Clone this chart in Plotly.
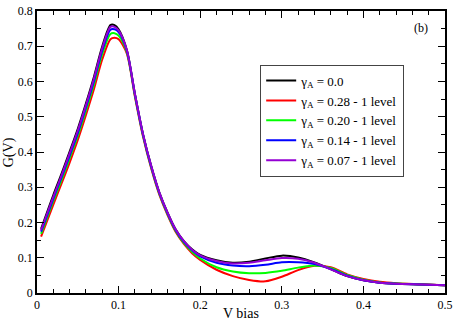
import plotly.graph_objects as go

# V bias grid
v_bias = [0.005, 0.02, 0.03, 0.04, 0.05, 0.06, 0.07, 0.08, 0.09, 0.095, 0.1, 0.11, 0.12,
          0.13, 0.14, 0.15, 0.16, 0.17, 0.18, 0.19, 0.2, 0.22, 0.24, 0.26, 0.28, 0.3,
          0.32, 0.34, 0.36, 0.38, 0.40, 0.42, 0.44, 0.47, 0.5]

g_00 = [0.182, 0.278, 0.338, 0.401, 0.466, 0.538, 0.615, 0.70, 0.760, 0.760, 0.748, 0.69,
        0.565, 0.45, 0.36, 0.285, 0.228, 0.18, 0.147, 0.124, 0.108, 0.093, 0.086, 0.089,
        0.098, 0.106, 0.101, 0.087, 0.068, 0.048, 0.036, 0.029, 0.026, 0.024, 0.022]
g_028 = [0.16, 0.251, 0.31, 0.37, 0.434, 0.505, 0.58, 0.663, 0.720, 0.724, 0.72, 0.68,
         0.557, 0.443, 0.353, 0.278, 0.221, 0.173, 0.139, 0.113, 0.094, 0.066, 0.048, 0.037,
         0.033, 0.046, 0.065, 0.077, 0.073, 0.053, 0.04, 0.032, 0.028, 0.025, 0.022]
g_020 = [0.168, 0.261, 0.32, 0.382, 0.446, 0.518, 0.594, 0.678, 0.735, 0.737, 0.73, 0.684,
         0.56, 0.446, 0.356, 0.281, 0.224, 0.176, 0.142, 0.117, 0.098, 0.073, 0.061, 0.056,
         0.057, 0.063, 0.072, 0.078, 0.071, 0.051, 0.038, 0.03, 0.027, 0.024, 0.022]
g_014 = [0.174, 0.268, 0.328, 0.39, 0.454, 0.527, 0.603, 0.688, 0.747, 0.748, 0.74, 0.688,
         0.563, 0.448, 0.358, 0.283, 0.226, 0.178, 0.145, 0.121, 0.104, 0.086, 0.078, 0.076,
         0.08, 0.087, 0.087, 0.082, 0.068, 0.049, 0.036, 0.029, 0.026, 0.024, 0.022]
g_007 = [0.178, 0.273, 0.333, 0.396, 0.461, 0.533, 0.61, 0.695, 0.755, 0.755, 0.745, 0.69,
         0.565, 0.45, 0.36, 0.285, 0.228, 0.18, 0.147, 0.123, 0.107, 0.091, 0.084, 0.086,
         0.093, 0.099, 0.097, 0.086, 0.067, 0.048, 0.036, 0.029, 0.026, 0.024, 0.022]

names = ["γ<sub>A</sub> = 0.0", "γ<sub>A</sub> = 0.28 - 1 level", "γ<sub>A</sub> = 0.20 - 1 level",
         "γ<sub>A</sub> = 0.14 - 1 level", "γ<sub>A</sub> = 0.07 - 1 level"]
series = [g_00, g_028, g_020, g_014, g_007]
colors = ["#000000", "#ff0000", "#00ff00", "#0000ff", "#9400d3"]

serif = "Liberation Serif"

fig = go.Figure()
for nm, ys, col in zip(names, series, colors):
    fig.add_trace(go.Scatter(x=v_bias, y=ys, mode="lines", name=nm,
                             line=dict(color=col, width=2, shape="spline", smoothing=0.8)))

axis_common = dict(showgrid=False, zeroline=False, showline=True, linecolor="black", linewidth=1.5,
                   mirror="allticks", ticks="inside", ticklen=7, tickcolor="black",
                   ticklabeloverflow="allow",
                   tickfont=dict(family=serif, size=12, color="black"))
fig.update_xaxes(range=[0, 0.5], dtick=0.1, tick0=0,
                 minor=dict(dtick=0.02, ticks="inside", ticklen=4, tickcolor="black"),
                 **axis_common)
fig.update_yaxes(range=[0, 0.8], dtick=0.1, tick0=0,
                 minor=dict(dtick=0.05, ticks="inside", ticklen=4, tickcolor="black"),
                 **axis_common)

fig.add_annotation(text="G(V)", xref="paper", yref="paper", x=-0.068, y=0.5, textangle=-90,
                   xanchor="center", yanchor="middle",
                   showarrow=False, font=dict(family=serif, size=14, color="black"))
fig.add_annotation(text="V bias", xref="paper", yref="paper", x=0.5, y=-0.073,
                   xanchor="center", yanchor="middle",
                   showarrow=False, font=dict(family=serif, size=14, color="black"))
fig.add_annotation(text="(b)", xref="paper", yref="paper", x=0.942, y=0.94,
                   xanchor="center", yanchor="middle",
                   showarrow=False, font=dict(family=serif, size=12, color="black"))

fig.update_layout(width=457, height=321, margin=dict(l=37, r=7, t=4, b=28),
                  plot_bgcolor="white", paper_bgcolor="white",
                  font=dict(family=serif),
                  legend=dict(x=0.547, y=0.81, xanchor="left", yanchor="top",
                              bgcolor="white", bordercolor="#444444", borderwidth=1,
                              font=dict(family=serif, size=13, color="black"),
                              itemwidth=30, tracegroupgap=0))
fig.write_html("out.html", config={"displayModeBar": False},
               post_script="document.body.style.margin='0';")
